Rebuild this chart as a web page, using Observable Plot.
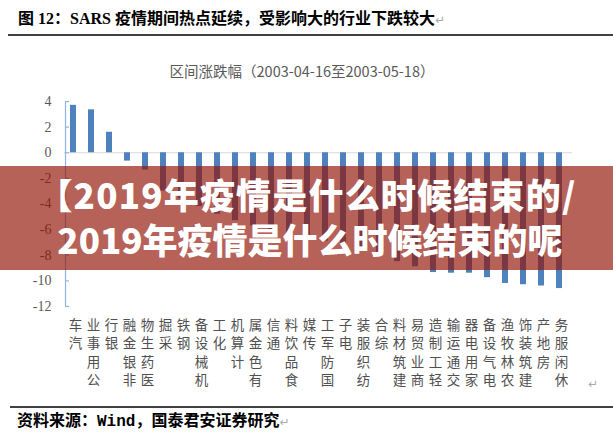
<!DOCTYPE html>
<html>
<head>
<meta charset="utf-8">
<script src="https://cdn.jsdelivr.net/npm/d3@7"></script>
<script src="https://cdn.jsdelivr.net/npm/@observablehq/plot@0.6"></script>
<style>
  html, body { margin: 0; padding: 0; background: #fff; }
  #chart { position: relative; width: 613px; height: 436px; overflow: hidden; }
  svg { display: block; }
</style>
</head>
<body>
<div id="chart"></div>
<script>
const categories = ["汽车","公用事业","银行","非银金融","医药生物","采掘","钢铁","机械设备","化工","计算机","有色金属","通信","食品饮料","传媒","国防军工","电子","纺织服装","综合","建筑材料","商业贸易","轻工制造","交通运输","家用电器","电气设备","农林牧渔","建筑装饰","房地产","休闲服务"];
const values = [3.7, 3.35, 1.6, -0.65, -1.35, -3.0, -3.6, -4.2, -4.8, -5.3, -5.7, -6.1, -6.4, -6.6, -6.9, -7.2, -7.6, -8.0, -8.5, -8.9, -9.35, -9.4, -9.4, -9.75, -10.2, -10.3, -10.4, -10.6];
const yTicks = [-12, -10, -8, -6, -4, -2, 0, 2, 4];
const titleText = "图 12：SARS 疫情期间热点延续，受影响大的行业下跌较大";
const chartTitle = "区间涨跌幅（2003-04-16至2003-05-18）";
const sourceText = "资料来源：Wind，国泰君安证券研究";
const bannerLines = ["【2019年疫情是什么时候结束的/", "2019年疫情是什么时候结束的呢"];

const data = categories.map((c, i) => ({cat: c, value: values[i]}));

const plot = Plot.plot({
  width: 613,
  height: 436,
  marginLeft: 64,
  marginRight: 45,
  marginTop: 101,
  marginBottom: 130,
  style: {background: "#fff", overflow: "visible"},
  x: {type: "band", domain: categories, paddingInner: 0.66, paddingOuter: 0.33, axis: null},
  y: {domain: [-12, 4], axis: null},
  marks: [
    Plot.ruleY([0], {stroke: "#d9d9d9", strokeWidth: 1.2, insetRight: -4}),
    Plot.barY(data, {x: "cat", y: "value", fill: "#4f81bd"}),
    Plot.ruleX([categories[0]], {x: d => d, y1: -12, y2: 4, dx: -8, stroke: "#8eb4e3", strokeWidth: 1.2}),
    Plot.tickY(yTicks, {y: d => d, x: () => categories[0], dx: -5, insetRight: 2, stroke: "#8eb4e3", strokeWidth: 1.2}),
    Plot.axisY({ticks: yTicks, tickSize: 0, tickPadding: 13, tickFormat: d => String(d),
      fontSize: 14, fontFamily: "Liberation Serif", fill: "#595959", label: null}),
    Plot.text(categories, {x: d => d, text: d => [...d].reverse().join("\n"),
      frameAnchor: "bottom", lineAnchor: "top", dy: 11, dx: 2, lineHeight: 1.34,
      fontSize: 13.5, fontFamily: "Noto Sans CJK SC", fill: "#505050"})
  ]
});

document.getElementById("chart").appendChild(plot);

const svg = d3.select(plot);
// header
const t = svg.append("text").attr("x", 18).attr("y", 24).attr("text-anchor", "start")
  .attr("font-family", "Liberation Serif, Noto Sans CJK SC").attr("font-size", 16).attr("font-weight", "bold").attr("fill", "#000");
t.append("tspan").text(titleText);
t.append("tspan").attr("fill", "#aaa").attr("font-weight", "normal").attr("font-family", "DejaVu Sans").attr("font-size", 12).text("↵");
svg.append("line").attr("x1", 8).attr("x2", 613).attr("y1", 35).attr("y2", 35).attr("stroke", "#000").attr("stroke-width", 1.5);

svg.append("text").attr("x", 302).attr("y", 77).attr("text-anchor", "middle")
  .attr("font-family", "Noto Sans CJK SC").attr("font-size", 14.5).attr("fill", "#595959").text(chartTitle);

svg.append("text").attr("x", 593).attr("y", 388).attr("text-anchor", "middle")
  .attr("font-family", "DejaVu Sans").attr("font-size", 12).attr("fill", "#aaa").text("↵");

// footer
svg.append("line").attr("x1", 10).attr("x2", 613).attr("y1", 407).attr("y2", 407).attr("stroke", "#000").attr("stroke-width", 1.5);
const f = svg.append("text").attr("x", 17).attr("y", 426).attr("text-anchor", "start")
  .attr("font-family", "Liberation Mono, Noto Sans CJK SC").attr("font-size", 16).attr("font-weight", "bold").attr("fill", "#000");
f.append("tspan").text(sourceText);
f.append("tspan").attr("fill", "#aaa").attr("font-weight", "normal").attr("font-family", "DejaVu Sans").attr("font-size", 12).text("↵");

// overlay banner
svg.append("rect").attr("x", 0).attr("y", 166).attr("width", 613).attr("height", 104)
  .attr("fill", "rgb(145,20,4)").attr("fill-opacity", 0.665);
bannerLines.forEach((s, i) => {
  svg.append("text").attr("x", i === 0 ? 307 : 310).attr("y", 209 + i * 45).attr("text-anchor", "middle")
    .attr("font-family", "Noto Sans CJK SC").attr("font-weight", 900).attr("font-size", 35)
    .attr("letter-spacing", i === 0 ? 1.2 : 0)
    .attr("fill", "#fff").text(s);
});
</script>
</body>
</html>
